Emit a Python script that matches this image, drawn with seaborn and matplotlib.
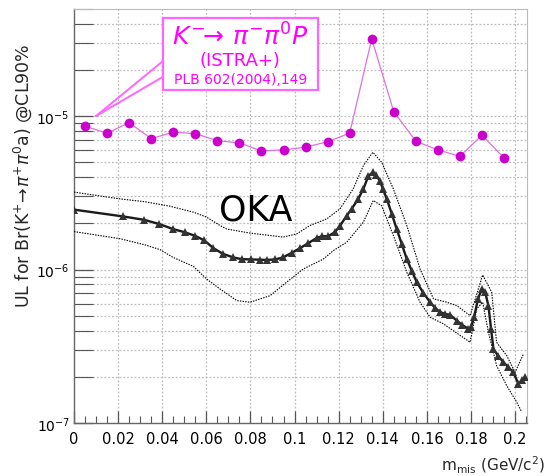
import matplotlib
matplotlib.use("Agg")
import matplotlib.pyplot as plt
import matplotlib.ticker as mticker
from matplotlib.patches import Rectangle
from matplotlib.lines import Line2D
import numpy as np
import pandas as pd
import seaborn as sns

# ISTRA+ upper limits (K- -> pi- pi0 P), 10 MeV bins
istra_m = [0.005, 0.015, 0.025, 0.035, 0.045, 0.055, 0.065, 0.075, 0.085, 0.095,
           0.105, 0.115, 0.125, 0.135, 0.145, 0.155, 0.165, 0.175, 0.185, 0.195]
istra_ul = [8.61e-6, 7.75e-6, 9.08e-6, 7.14e-6, 7.87e-6, 7.70e-6, 6.93e-6, 6.70e-6, 5.94e-6, 6.03e-6,
            6.28e-6, 6.82e-6, 7.75e-6, 3.19e-5, 1.07e-5, 6.87e-6, 6.03e-6, 5.48e-6, 7.52e-6, 5.35e-6]

# OKA upper limit (central curve)
oka_m = [0.0, 0.0224, 0.0319, 0.0387, 0.0448, 0.0503, 0.0549, 0.0591, 0.0632, 0.0674,
         0.0722, 0.0761, 0.0803, 0.0844, 0.0874, 0.0912, 0.0947, 0.0987, 0.1025, 0.1063,
         0.1101, 0.1125, 0.1153, 0.1184, 0.1206, 0.1237, 0.1259, 0.1289, 0.1312, 0.1335,
         0.1355, 0.1370, 0.1386, 0.1401, 0.1418, 0.1441, 0.1463, 0.1486, 0.1509, 0.1532,
         0.1554, 0.1584, 0.1615, 0.1637, 0.1660, 0.1683, 0.1705, 0.1736, 0.1760, 0.1788,
         0.1800, 0.1814, 0.1832, 0.1849, 0.1864, 0.1879, 0.1891, 0.1902, 0.1923, 0.1947,
         0.1968, 0.1992, 0.2015, 0.2032, 0.2045]
oka_ul = [2.46e-6, 2.22e-6, 2.11e-6, 1.98e-6, 1.84e-6, 1.75e-6, 1.66e-6, 1.55e-6, 1.38e-6, 1.27e-6,
          1.20e-6, 1.17e-6, 1.165e-6, 1.16e-6, 1.156e-6, 1.165e-6, 1.20e-6, 1.285e-6, 1.38e-6, 1.49e-6,
          1.61e-6, 1.65e-6, 1.65e-6, 1.76e-6, 1.93e-6, 2.25e-6, 2.49e-6, 2.89e-6, 3.36e-6, 4.08e-6,
          4.31e-6, 4.14e-6, 3.79e-6, 3.36e-6, 2.89e-6, 2.31e-6, 1.84e-6, 1.47e-6, 1.17e-6, 9.80e-7,
          8.28e-7, 7.05e-7, 6.13e-7, 5.63e-7, 5.28e-7, 5.14e-7, 5.07e-7, 4.65e-7, 4.36e-7, 4.11e-7,
          4.23e-7, 4.91e-7, 6.44e-7, 7.48e-7, 7.16e-7, 5.82e-7, 4.11e-7, 3.04e-7, 2.74e-7, 2.49e-7,
          2.32e-7, 2.14e-7, 1.80e-7, 1.91e-7, 1.99e-7]

# OKA expected band, upper edge
band_hi_m = [0.0, 0.0209, 0.0322, 0.0435, 0.0541, 0.0601, 0.0662, 0.0692, 0.0798, 0.0949,
             0.1010, 0.1070, 0.1146, 0.1206, 0.1266, 0.1312, 0.1355, 0.1395, 0.1448, 0.1509,
             0.1569, 0.1630, 0.1690, 0.1736, 0.1796, 0.1853, 0.1894, 0.1916, 0.1962, 0.2000, 0.2038]
band_hi = [3.20e-6, 2.89e-6, 2.77e-6, 2.59e-6, 2.37e-6, 2.20e-6, 1.94e-6, 1.84e-6, 1.73e-6, 1.63e-6,
           1.71e-6, 1.94e-6, 2.14e-6, 2.49e-6, 3.36e-6, 4.76e-6, 5.82e-6, 5.01e-6, 3.36e-6, 1.94e-6,
           1.01e-6, 6.45e-7, 6.13e-7, 5.82e-7, 5.01e-7, 9.23e-7, 7.12e-7, 3.36e-7, 2.75e-7, 2.14e-7, 2.82e-7]

# OKA expected band, lower edge
band_lo_m = [0.0, 0.0209, 0.0322, 0.0390, 0.0450, 0.0541, 0.0601, 0.0662, 0.0738, 0.0798,
             0.0889, 0.0964, 0.1040, 0.1130, 0.1176, 0.1237, 0.1312, 0.1357, 0.1395, 0.1448,
             0.1509, 0.1569, 0.1615, 0.1675, 0.1796, 0.1826, 0.1853, 0.1879, 0.1916, 0.1962,
             0.2007, 0.2030]
band_lo = [1.77e-6, 1.59e-6, 1.45e-6, 1.35e-6, 1.20e-6, 1.05e-6, 8.69e-7, 7.48e-7, 6.28e-7, 6.13e-7,
           6.76e-7, 8.28e-7, 1.01e-6, 1.17e-6, 1.33e-6, 1.51e-6, 2.04e-6, 2.82e-6, 2.61e-6, 1.67e-6,
           9.61e-7, 6.13e-7, 4.89e-7, 4.43e-7, 3.36e-7, 5.54e-7, 6.13e-7, 3.91e-7, 2.37e-7, 1.75e-7,
           1.37e-7, 1.18e-7]

x_ticks = [0, 0.02, 0.04, 0.06, 0.08, 0.1, 0.12, 0.14, 0.16, 0.18, 0.2]
x_tick_labels = ["0", "0.02", "0.04", "0.06", "0.08", "0.1", "0.12", "0.14", "0.16", "0.18", "0.2"]

sns.set_theme(style="white")
plt.rcParams["font.family"] = ["DejaVu Sans"]
plt.rcParams["mathtext.fontset"] = "dejavusans"

fig = plt.figure(figsize=(5.45, 4.77), dpi=100)
ax = fig.add_axes([74 / 545, 53 / 477, 453 / 545, 414 / 477])
ax.set_yscale("log")
ax.set_xlim(0, 0.2054)
ax.set_ylim(1e-7, 5.0e-5)

# grid: x at major ticks, y at every log tick
grid_kw = dict(color="#bdbdbd", linestyle=(0, (1.5, 1.5)), linewidth=0.9, zorder=0)
for xv in x_ticks[1:]:
    ax.axvline(xv, **grid_kw)
for dec in [1e-7, 1e-6, 1e-5]:
    for k in range(1, 10):
        yv = k * dec
        if 1e-7 < yv < 5e-5:
            ax.axhline(yv, **grid_kw)

df_hi = pd.DataFrame({"m": band_hi_m, "ul": band_hi})
df_lo = pd.DataFrame({"m": band_lo_m, "ul": band_lo})
df_oka = pd.DataFrame({"m": oka_m, "ul": oka_ul})
df_istra = pd.DataFrame({"m": istra_m, "ul": istra_ul})

sns.lineplot(data=df_hi, x="m", y="ul", ax=ax, color="black", linewidth=0.8,
             linestyle=(0, (1.3, 1.1)), estimator=None, zorder=3)
sns.lineplot(data=df_lo, x="m", y="ul", ax=ax, color="black", linewidth=0.8,
             linestyle=(0, (1.3, 1.1)), estimator=None, zorder=3)
sns.lineplot(data=df_oka, x="m", y="ul", ax=ax, color="#1a1a1a", linewidth=1.7,
             marker="^", markersize=5.5, markeredgewidth=0, markerfacecolor="#333333",
             estimator=None, zorder=4)
sns.lineplot(data=df_istra, x="m", y="ul", ax=ax, color="#e070e0", linewidth=0.9,
             marker="o", markersize=7, markeredgewidth=0, markerfacecolor="#cc00cc",
             estimator=None, zorder=5)

ax.set_xlabel("")
ax.set_ylabel("")

# axis ticks, ROOT-like: inside, on left and bottom
ax.set_xticks(x_ticks)
ax.set_xticklabels(x_tick_labels)
ax.xaxis.set_minor_locator(mticker.MultipleLocator(0.005))
ax.yaxis.set_major_locator(mticker.LogLocator(base=10))
ax.yaxis.set_minor_locator(mticker.LogLocator(base=10, subs=np.arange(2, 10)))
ax.yaxis.set_minor_formatter(mticker.NullFormatter())
ax.tick_params(axis="x", which="major", direction="in", length=9, width=0.9,
               colors="#555555", labelcolor="black", labelsize=10.5, pad=6,
               bottom=True, top=False)
ax.tick_params(axis="x", which="minor", direction="in", length=5, width=0.8,
               colors="#555555", bottom=True, top=False)
ax.tick_params(axis="y", which="major", direction="in", length=14, width=0.9,
               colors="#555555", labelcolor="black", labelsize=10, pad=3,
               left=True, right=False)
ax.tick_params(axis="y", which="minor", direction="in", length=14, width=0.8,
               colors="#555555", left=True, right=False)
for side in ["left", "bottom"]:
    ax.spines[side].set_color("#666666")
    ax.spines[side].set_linewidth(1.0)
for side in ["top", "right"]:
    ax.spines[side].set_color("#bbbbbb")
    ax.spines[side].set_linewidth(0.8)

fig.text(23 / 545, 1 - 176 / 477,
         r"UL for Br(K$^{+}\!\rightarrow\!\pi^{+}\pi^{0}$a) @CL90%",
         rotation=90, ha="center", va="center", fontsize=12.5)
fig.text(1.0, 1 - 465 / 477, r"m$_{\rm mis}$ (GeV/c$^{2}$)",
         ha="right", va="center", fontsize=11)

ax.text(0.40, 0.515, "OKA", transform=ax.transAxes, ha="center", va="center",
        fontsize=25, color="black", zorder=6)

# ISTRA+ label box with pointer
pink = "#ff66ff"
box = Rectangle((0.196, 0.804), 0.343, 0.174, transform=ax.transAxes,
                facecolor="white", edgecolor=pink, linewidth=1.6, zorder=7)
ax.add_patch(box)
for yb in (0.874, 0.836):
    ax.add_line(Line2D([0.196, 0.0486], [yb, 0.7415], transform=ax.transAxes,
                       color=pink, linewidth=1.4, zorder=7))
ax.text(0.367, 0.935, r"$K^{-}\!\!\rightarrow\,\pi^{-}\pi^{0}P$", transform=ax.transAxes,
        ha="center", va="center", fontsize=18, color="#ff00ff", zorder=8)
ax.text(0.367, 0.876, "(ISTRA+)", transform=ax.transAxes,
        ha="center", va="center", fontsize=13, color="#ff00ff", zorder=8)
ax.text(0.367, 0.832, "PLB 602(2004),149", transform=ax.transAxes,
        ha="center", va="center", fontsize=10, color="#ff00ff", zorder=8)

fig.savefig("out.png", dpi=100, facecolor="white")
